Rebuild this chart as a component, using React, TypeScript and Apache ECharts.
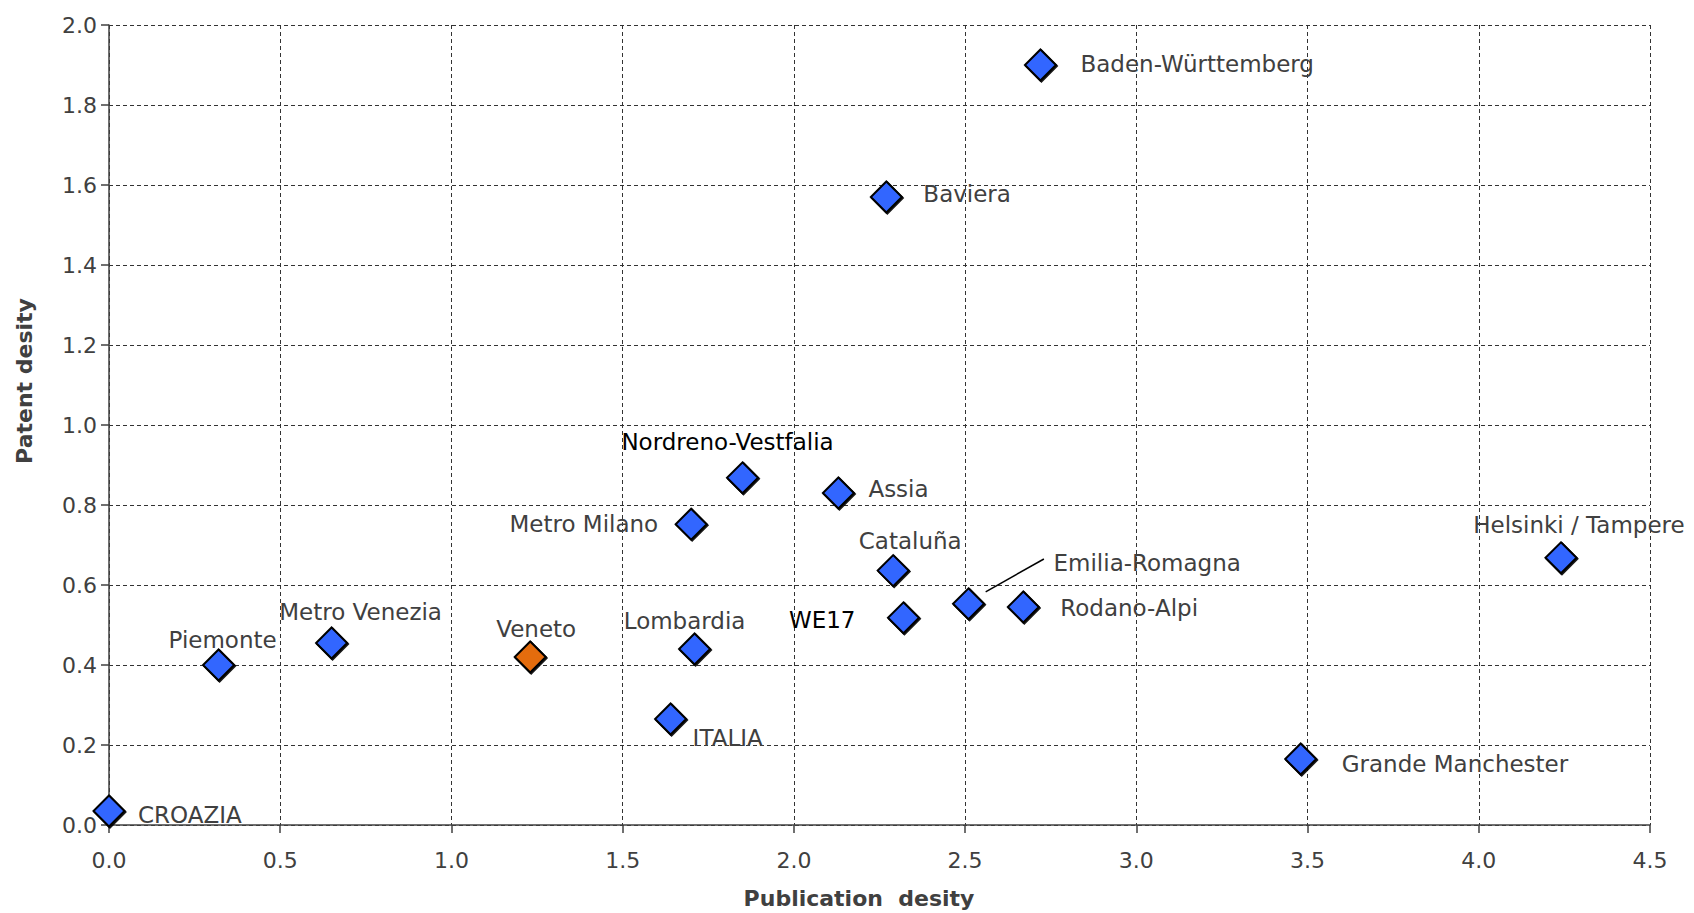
import React, { useEffect, useRef } from "react";
import * as echarts from "echarts";

// ---- data ----
const regions = [
  "CROAZIA",
  "Piemonte",
  "Metro Venezia",
  "Veneto",
  "Lombardia",
  "ITALIA",
  "Metro Milano",
  "Nordreno-Vestfalia",
  "Assia",
  "Cataluña",
  "WE17",
  "Emilia-Romagna",
  "Rodano-Alpi",
  "Baviera",
  "Baden-Württemberg",
  "Helsinki / Tampere",
  "Grande Manchester",
];
const publicationDensity = [0.0, 0.32, 0.65, 1.23, 1.71, 1.64, 1.70, 1.85, 2.13, 2.29, 2.32, 2.51, 2.67, 2.27, 2.72, 4.24, 3.48];
const patentDensity = [0.035, 0.4, 0.455, 0.42, 0.44, 0.265, 0.752, 0.868, 0.83, 0.636, 0.518, 0.553, 0.545, 1.57, 1.9, 0.668, 0.165];
const highlighted = ["Veneto"];
const emiliaLeader = [
  [2.56, 0.583],
  [2.73, 0.665],
];
const xAxisTitle = "Publication  desity";
const yAxisTitle = "Patent desity";

// ---- label placement (styling) ----
const labelPlacement: Record<string, [string, number, number, string?]> = {
  CROAZIA: ["left", 29, 4],
  Piemonte: ["center", 4, -25],
  "Metro Venezia": ["center", 29, -31],
  Veneto: ["center", 6, -28],
  Lombardia: ["center", -10, -28],
  ITALIA: ["left", 22, 19],
  "Metro Milano": ["right", -33, 0],
  "Nordreno-Vestfalia": ["center", -15, -36, "#000000"],
  Assia: ["left", 30, -4],
  "Cataluña": ["center", 17, -30],
  WE17: ["right", -48, 2, "#000000"],
  "Emilia-Romagna": ["left", 85, -41],
  "Rodano-Alpi": ["left", 37, 1],
  Baviera: ["left", 37, -3],
  "Baden-Württemberg": ["left", 40, -1],
  "Helsinki / Tampere": ["center", 18, -33],
  "Grande Manchester": ["left", 41, 5],
};

const FONT = "DejaVu Sans";

export default function App() {
  const ref = useRef<HTMLDivElement>(null);
  useEffect(() => {
    if (!ref.current) return;
    const chart = echarts.init(ref.current, null, { renderer: "svg" });
    const data = regions.map((name, i) => {
      const p = labelPlacement[name] || ["left", 30, 0];
      return {
        name,
        value: [publicationDensity[i], patentDensity[i]],
        itemStyle: {
          color: highlighted.includes(name) ? "#E46C0A" : "#3366FF",
          borderColor: "#000000",
          borderWidth: 2,
          opacity: 1,
          shadowColor: "rgba(0,0,0,0.9)",
          shadowOffsetX: 1,
          shadowOffsetY: 1,
          shadowBlur: 0,
        },
        label: {
          show: true,
          position: "inside",
          align: p[0],
          verticalAlign: "middle",
          offset: [p[1], p[2]],
          color: p[3] || "#404040",
          fontSize: 23,
          fontFamily: FONT,
          formatter: name,
        },
      };
    });
    chart.setOption({
      animation: false,
      backgroundColor: "#ffffff",
      grid: { left: 109, right: 44, top: 25, bottom: 88, containLabel: false },
      xAxis: {
        type: "value",
        min: 0,
        max: 4.5,
        interval: 0.5,
        axisLine: { show: true, onZero: false, lineStyle: { color: "#404040", width: 1.5 } },
        axisTick: { show: true, length: 8, lineStyle: { color: "#404040", width: 1.5 } },
        axisLabel: {
          margin: 24,
          fontSize: 22,
          fontFamily: FONT,
          color: "#404040",
          formatter: (v: number) => v.toFixed(1),
        },
        splitLine: { show: true, lineStyle: { color: "#333333", type: [4, 3], width: 1 } },
      },
      yAxis: {
        type: "value",
        min: 0,
        max: 2,
        interval: 0.2,
        axisLine: { show: true, onZero: false, lineStyle: { color: "#404040", width: 1.5 } },
        axisTick: { show: true, length: 8, lineStyle: { color: "#404040", width: 1.5 } },
        axisLabel: {
          margin: 12,
          fontSize: 22,
          fontFamily: FONT,
          color: "#404040",
          formatter: (v: number) => v.toFixed(1),
        },
        splitLine: { show: true, lineStyle: { color: "#333333", type: [4, 3], width: 1 } },
      },
      graphic: [
        {
          type: "text",
          x: 24,
          y: 381,
          rotation: Math.PI / 2,
          style: {
            text: yAxisTitle,
            fill: "#404040",
            font: `bold 22px "${FONT}"`,
            align: "center",
            verticalAlign: "middle",
          },
        },
        {
          type: "text",
          x: 859,
          y: 898,
          style: {
            text: xAxisTitle,
            fill: "#404040",
            font: `bold 22px "${FONT}"`,
            align: "center",
            verticalAlign: "middle",
          },
        },
      ],
      series: [
        {
          type: "scatter",
          symbol: "diamond",
          symbolSize: 31,
          data,
          z: 3,
          emphasis: { disabled: true },
          markLine: {
            silent: true,
            symbol: "none",
            label: { show: false },
            lineStyle: { color: "#000000", width: 1.5, type: "solid" },
            data: [[{ coord: emiliaLeader[0] }, { coord: emiliaLeader[1] }]],
          },
        },
      ],
    });
    return () => chart.dispose();
  }, []);
  return (
    <div
      ref={ref}
      style={{ position: "fixed", left: 0, top: 0, width: 1694, height: 913 }}
    />
  );
}
